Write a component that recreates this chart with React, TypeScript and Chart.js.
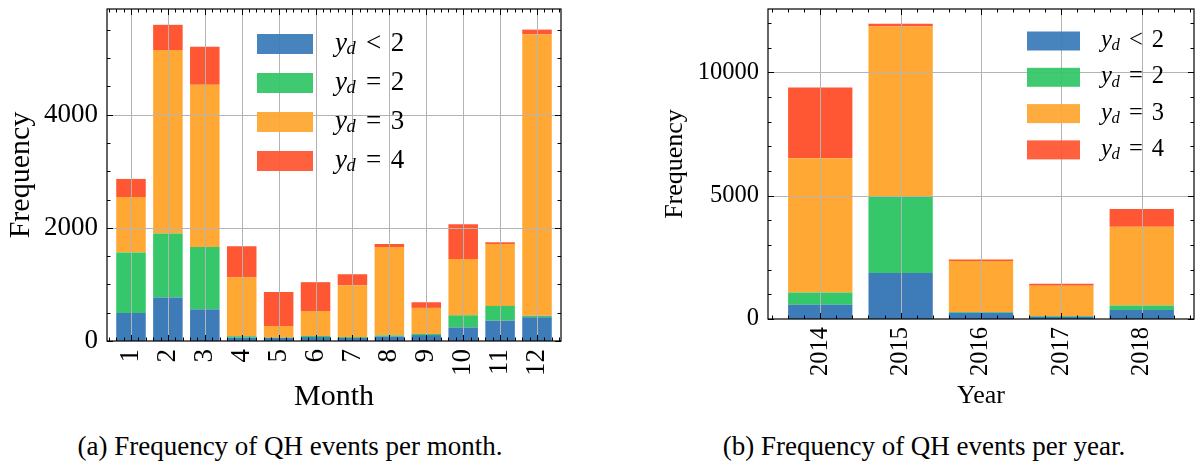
import React, { useEffect, useRef } from 'react';
import { Chart, registerables } from 'chart.js';

Chart.register(...registerables);

// ---------- data ----------
const seriesNames = ['y_d < 2', 'y_d = 2', 'y_d = 3', 'y_d = 4'];
const seriesColors = ['#3d7cb9', '#35c76a', '#ffa834', '#ff5733'];

const monthLabels = ['1', '2', '3', '4', '5', '6', '7', '8', '9', '10', '11', '12'];
const monthLt2 = [495, 770, 560, 60, 55, 70, 55, 80, 105, 240, 360, 420];
const monthEq2 = [1070, 1130, 1100, 25, 5, 20, 15, 20, 20, 215, 260, 25];
const monthEq3 = [980, 3245, 2870, 1040, 205, 440, 915, 1560, 460, 995, 1095, 4975];
const monthEq4 = [320, 445, 670, 550, 600, 510, 195, 55, 100, 615, 30, 85];

const yearLabels = ['2014', '2015', '2016', '2017', '2018'];
const yearLt2 = [580, 1870, 255, 90, 365];
const yearEq2 = [495, 3110, 25, 30, 185];
const yearEq3 = [5440, 6880, 2075, 1225, 3190];
const yearEq4 = [2870, 110, 55, 80, 715];

const monthTitleX = 'Month';
const yearTitleX = 'Year';
const titleY = 'Frequency';
const captionA = '(a) Frequency of QH events per month.';
const captionB = '(b) Frequency of QH events per year.';

const FAMILY = '"Liberation Serif", "Times New Roman", serif';

type PanelCfg = {
  labels: string[];
  series: number[][];
  xTitle: string;
  majorStep: number;
  minorStep: number;
  left: number;
  w: number;
  h: number;
  yWidth: number;
  xHeight: number;
  padTop: number;
  padRight: number;
  tickFont: number;
  titleFont: number;
  yTitlePad: number;
  xTitlePad: number;
  xTickPad: number;
  legDx: number;
  legDy: number;
  legRow: number;
  patchW: number;
  patchH: number;
  textOff: number;
  legFont: number;
};

function drawMath(ctx: CanvasRenderingContext2D, label: string, x: number, baseline: number, size: number) {
  const [sym, op, num] = label.split(' ');
  const [base, sub] = sym.split('_');
  ctx.fillStyle = '#000';
  ctx.textBaseline = 'alphabetic';
  ctx.textAlign = 'left';
  ctx.font = `italic ${size}px ${FAMILY}`;
  ctx.fillText(base, x, baseline);
  let cx = x + ctx.measureText(base).width;
  if (sub) {
    const ss = size * 0.68;
    ctx.font = `italic ${ss}px ${FAMILY}`;
    ctx.fillText(sub, cx - size * 0.02, baseline + size * 0.13);
    cx += ctx.measureText(sub).width;
  }
  ctx.font = `${size}px ${FAMILY}`;
  const gap = size * 0.36;
  cx += gap;
  ctx.fillText(op, cx, baseline);
  cx += ctx.measureText(op).width + gap;
  ctx.fillText(num, cx, baseline);
}

function makePlugin(cfg: PanelCfg) {
  return {
    id: 'sciFrame',
    afterDatasetsDraw(chart: any) {
      const { ctx, chartArea: a } = chart;
      const x = chart.scales.x;
      const y = chart.scales.y;
      ctx.save();
      // grid (drawn above bars)
      ctx.strokeStyle = '#b3b3b3';
      ctx.lineWidth = 1;
      ctx.beginPath();
      x.ticks.forEach((t: any) => {
        const px = Math.round(x.getPixelForValue(t.value)) + 0.5;
        ctx.moveTo(px, a.top);
        ctx.lineTo(px, a.bottom);
      });
      y.ticks.forEach((t: any) => {
        if (t.value === 0) return;
        const py = Math.round(y.getPixelForValue(t.value)) + 0.5;
        ctx.moveTo(a.left, py);
        ctx.lineTo(a.right, py);
      });
      ctx.stroke();

      // ticks (inward, all sides)
      ctx.strokeStyle = '#000';
      ctx.lineWidth = 1;
      ctx.beginPath();
      const major = 6;
      const minor = 3.5;
      const xMin = x.min;
      const xMax = x.max;
      const n = cfg.labels.length;
      for (let k = Math.ceil(xMin / 0.2 - 1e-9); k * 0.2 <= xMax + 1e-9; k++) {
        const v = k * 0.2;
        const isMajor = Math.abs(v - Math.round(v)) < 1e-6 && Math.round(v) >= 0 && Math.round(v) < n;
        const len = isMajor ? major : minor;
        const px = Math.round(x.getPixelForValue(v)) + 0.5;
        ctx.moveTo(px, a.bottom);
        ctx.lineTo(px, a.bottom - len);
        ctx.moveTo(px, a.top);
        ctx.lineTo(px, a.top + len);
      }
      for (let v = 0; v <= y.max + 1e-9; v += cfg.minorStep) {
        const isMajor = v % cfg.majorStep === 0;
        const len = isMajor ? major : minor;
        const py = Math.round(y.getPixelForValue(v)) + 0.5;
        ctx.moveTo(a.left, py);
        ctx.lineTo(a.left + len, py);
        ctx.moveTo(a.right, py);
        ctx.lineTo(a.right - len, py);
      }
      ctx.stroke();

      // frame
      ctx.lineWidth = 1.2;
      ctx.strokeRect(a.left, a.top, a.right - a.left, a.bottom - a.top);

      // legend
      const lx = a.left + cfg.legDx;
      seriesNames.forEach((name, i) => {
        const cy = a.top + cfg.legDy + i * cfg.legRow;
        ctx.globalAlpha = 0.95;
        ctx.fillStyle = seriesColors[i];
        ctx.fillRect(lx, cy - cfg.patchH / 2, cfg.patchW, cfg.patchH);
        ctx.globalAlpha = 1;
        drawMath(ctx, name, lx + cfg.textOff, cy + cfg.legFont * 0.25, cfg.legFont);
      });
      ctx.restore();
    },
  };
}

function BarPanel({ cfg }: { cfg: PanelCfg }) {
  const ref = useRef<HTMLCanvasElement>(null);
  useEffect(() => {
    const n = cfg.labels.length;
    const totals = cfg.labels.map((_, i) => cfg.series.reduce((s, arr) => s + arr[i], 0));
    const yMax = Math.max(...totals) * 1.05;
    const chart = new Chart(ref.current as HTMLCanvasElement, {
      type: 'bar',
      data: {
        datasets: cfg.series.map((arr, si) => ({
          label: seriesNames[si],
          data: arr.map((v, i) => ({ x: i, y: v })),
          backgroundColor: seriesColors[si],
          borderWidth: 0,
          barPercentage: 0.8,
          categoryPercentage: 1,
        })),
      },
      options: {
        animation: false,
        responsive: false,
        maintainAspectRatio: false,
        devicePixelRatio: 1,
        layout: { padding: { top: cfg.padTop, right: cfg.padRight, left: 0, bottom: 0 } },
        plugins: { legend: { display: false }, tooltip: { enabled: false } },
        scales: {
          x: {
            type: 'linear',
            stacked: true,
            offset: false,
            min: -0.65,
            max: n - 1 + 0.65,
            afterBuildTicks: (s: any) => {
              s.ticks = cfg.labels.map((_, i) => ({ value: i }));
            },
            afterFit: (s: any) => {
              s.height = cfg.xHeight;
              s.paddingLeft = 0;
              s.paddingRight = 0;
            },
            grid: { display: false, drawTicks: false, offset: false },
            border: { display: false },
            ticks: {
              autoSkip: false,
              minRotation: 90,
              maxRotation: 90,
              padding: cfg.xTickPad,
              color: '#000',
              font: { family: FAMILY, size: cfg.tickFont },
              callback: (v: any) => cfg.labels[Math.round(Number(v))] ?? '',
            },
            title: {
              display: true,
              text: cfg.xTitle,
              color: '#000',
              font: { family: FAMILY, size: cfg.titleFont },
              padding: { top: 0, bottom: cfg.xTitlePad },
            },
          },
          y: {
            stacked: true,
            min: 0,
            max: yMax,
            afterBuildTicks: (s: any) => {
              const t: any[] = [];
              for (let v = 0; v <= yMax; v += cfg.majorStep) t.push({ value: v });
              s.ticks = t;
            },
            afterFit: (s: any) => {
              s.width = cfg.yWidth;
              s.paddingTop = 0;
              s.paddingBottom = 0;
            },
            grid: { display: false, drawTicks: false },
            border: { display: false },
            ticks: {
              padding: 9,
              color: '#000',
              font: { family: FAMILY, size: cfg.tickFont },
              callback: (v: any) => String(v),
            },
            title: {
              display: true,
              text: titleY,
              color: '#000',
              font: { family: FAMILY, size: cfg.titleFont },
              padding: { top: cfg.yTitlePad, bottom: 0 },
            },
          },
        },
      } as any,
      plugins: [makePlugin(cfg)],
    });
    return () => chart.destroy();
  }, [cfg]);
  return (
    <canvas
      ref={ref}
      width={cfg.w}
      height={cfg.h}
      style={{ position: 'absolute', left: cfg.left, top: 0, width: cfg.w, height: cfg.h }}
    />
  );
}

const monthCfg: PanelCfg = {
  labels: monthLabels,
  series: [monthLt2, monthEq2, monthEq3, monthEq4],
  xTitle: monthTitleX,
  majorStep: 2000,
  minorStep: 500,
  left: 0,
  w: 590,
  h: 420,
  yWidth: 107,
  xHeight: 79,
  padTop: 9,
  padRight: 29,
  tickFont: 27,
  titleFont: 30,
  yTitlePad: 3,
  xTitlePad: 5,
  xTickPad: 8,
  legDx: 150,
  legDy: 35,
  legRow: 39,
  patchW: 56,
  patchH: 20,
  textOff: 78,
  legFont: 27,
};

const yearCfg: PanelCfg = {
  labels: yearLabels,
  series: [yearLt2, yearEq2, yearEq3, yearEq4],
  xTitle: yearTitleX,
  majorStep: 5000,
  minorStep: 1000,
  left: 640,
  w: 564,
  h: 420,
  yWidth: 128,
  xHeight: 101,
  padTop: 9,
  padRight: 10,
  tickFont: 24.5,
  titleFont: 26,
  yTitlePad: 20,
  xTitlePad: 8,
  xTickPad: 8,
  legDx: 259,
  legDy: 32,
  legRow: 36.3,
  patchW: 53,
  patchH: 19,
  textOff: 74,
  legFont: 24.5,
};

export default function App() {
  const capStyle: React.CSSProperties = {
    position: 'absolute',
    top: 431,
    fontFamily: FAMILY,
    fontSize: 27,
    lineHeight: '30px',
    textAlign: 'center',
    whiteSpace: 'nowrap',
    color: '#000',
  };
  return (
    <div style={{ position: 'fixed', left: 0, top: 0, width: 1204, height: 461, background: '#fff', overflow: 'hidden' }}>
      <BarPanel cfg={monthCfg} />
      <BarPanel cfg={yearCfg} />
      <div style={{ ...capStyle, left: 40, width: 500 }}>{captionA}</div>
      <div style={{ ...capStyle, left: 674, width: 500 }}>{captionB}</div>
    </div>
  );
}
